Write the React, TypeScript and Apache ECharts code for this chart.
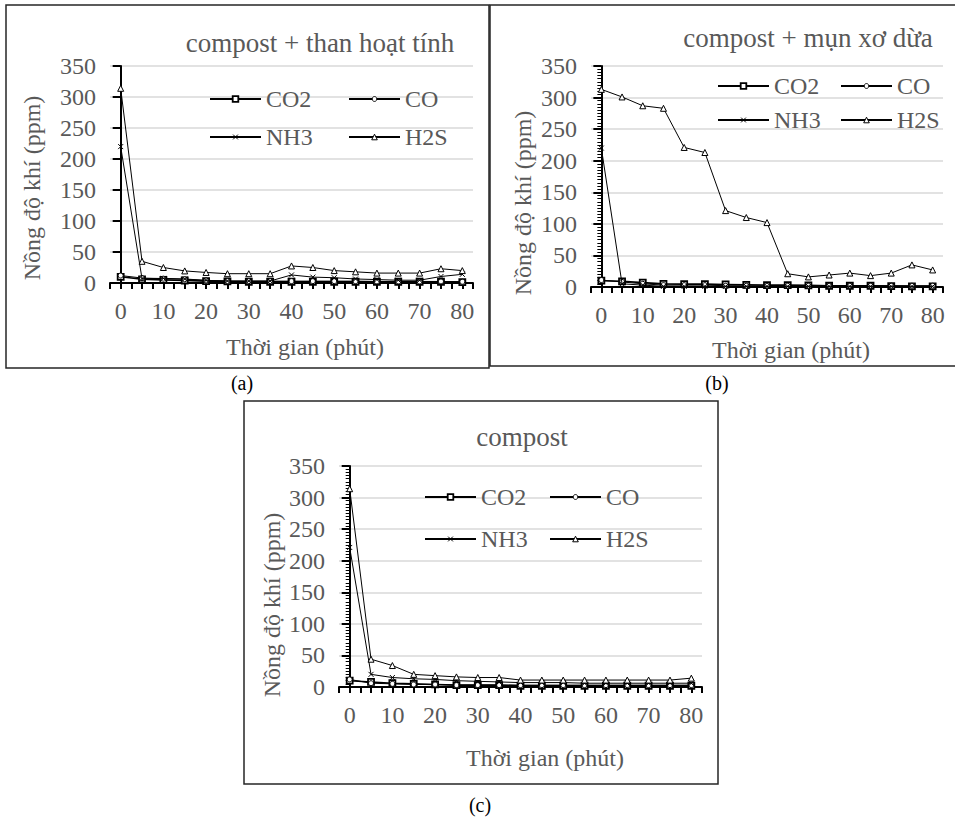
import React, { useEffect, useRef } from "react";
import * as echarts from "echarts";

// ---------- data ----------
const TIME = [0, 5, 10, 15, 20, 25, 30, 35, 40, 45, 50, 55, 60, 65, 70, 75, 80];
const SERIES_NAMES = ["CO2", "CO", "NH3", "H2S"];
const Y_TICKS = [0, 50, 100, 150, 200, 250, 300, 350];
const X_TICK_LABELS = [0, 10, 20, 30, 40, 50, 60, 70, 80];

// (a) compost + than hoạt tính
const co2A = [10, 6, 5, 4, 3, 2.5, 2, 2, 2, 2, 2, 2, 2, 2, 2, 2, 1.5];
const coA = [12, 8, 7, 6, 4, 3, 3, 3, 3, 3, 3, 3, 2.5, 2.5, 2.5, 2.5, 2];
const nh3A = [220, 7, 7.5, 6.5, 4.3, 3.2, 3.2, 3.2, 13, 9.5, 8.5, 6.5, 5.5, 4.5, 4.5, 10.5, 14];
const h2sA = [314, 35, 25, 19.5, 17, 15, 15, 15, 27.5, 25, 20, 18, 16, 16, 16, 23, 20];

// (b) compost + mụn xơ dừa
const co2B = [10, 9, 7, 5, 4.5, 4.5, 4, 3.5, 3, 3, 2.5, 2, 2, 2, 1.5, 1, 1];
const coB = [11, 8, 5, 3, 3, 3, 2, 2, 2, 2, 2, 2, 2, 2, 2, 2, 2];
const nh3B = [220, 5, 3, 1, 1, 1, 1, 1, 1, 1, 1, 1, 1, 1, 1, 1, 1];
const h2sB = [313, 301, 287, 283, 221, 213, 121, 110, 102, 21, 16, 19, 22, 18, 22, 35, 27];

// (c) compost
const co2C = [10, 8, 6, 5, 4, 3, 3, 3, 2, 2, 2, 2, 2, 2, 2, 2, 2];
const coC = [12, 6, 5, 4, 4, 3, 3, 3, 3, 3, 3, 3, 3, 3, 3, 3, 3];
const nh3C = [221, 20, 15, 13, 12, 10, 9, 8, 7, 7, 7, 6, 6, 6, 6, 6, 6];
const h2sC = [314, 44, 34, 20, 18, 16, 15, 15, 11, 11, 11, 11, 11, 11, 11, 11, 14];

const TITLES = ["compost + than hoạt tính", "compost + mụn xơ dừa", "compost"];
const CAPTIONS = ["(a)", "(b)", "(c)"];
const X_NAME = "Thời gian (phút)";
const Y_NAME = "Nồng độ khí (ppm)";

const PANEL_VALUES = [
  [co2A, coA, nh3A, h2sA],
  [co2B, coB, nh3B, h2sB],
  [co2C, coC, nh3C, h2sC],
];

// ---------- layout ----------
const FONT = "Liberation Serif";
const GREY = "#595959";

const PANELS = [
  {
    grid: { left: 110, top: 66, width: 363, height: 217 },
    box: { x: 6, y: 5, w: 483, h: 363 },
    title: { x: 320, y: 43 },
    xName: { x: 305, y: 347 },
    yName: { x: 32, y: 188 },
    caption: { x: 242, y: 383 },
    legend: { x1: 209, x2: 348, y1: 99, y2: 137 },
    minor: false,
  },
  {
    grid: { left: 591, top: 66, width: 352, height: 221 },
    box: { x: 490, y: 5, w: 480, h: 361 },
    title: { x: 808, y: 38 },
    xName: { x: 791, y: 350 },
    yName: { x: 523, y: 203 },
    caption: { x: 717, y: 383 },
    legend: { x1: 717, x2: 840, y1: 86, y2: 120 },
    minor: true,
  },
  {
    grid: { left: 339, top: 466, width: 363, height: 221 },
    box: { x: 244, y: 401, w: 474, h: 383 },
    title: { x: 522, y: 437 },
    xName: { x: 545, y: 758 },
    yName: { x: 272, y: 605 },
    caption: { x: 480, y: 805 },
    legend: { x1: 424, x2: 549, y1: 497, y2: 539 },
    minor: true,
  },
];

const CROSS = "path://M0,0L10,10M10,0L0,10";
const SYMBOLS = ["rect", "circle", CROSS, "triangle"];
const SYMBOL_SIZES = [6, 5, 5, 6];
const LINE_WIDTHS = [1.6, 1, 1, 1];
const LEGEND_ITEM_H = [7, 6, 6, 7];

export default function App() {
  const ref = useRef<HTMLDivElement>(null);

  useEffect(() => {
    document.body.style.margin = "0";
    if (!ref.current) return;
    const chart = echarts.init(ref.current, undefined, { renderer: "svg" });

    const grids: any[] = [];
    const xAxes: any[] = [];
    const yAxes: any[] = [];
    const series: any[] = [];
    const legends: any[] = [];
    const graphics: any[] = [];

    PANELS.forEach((p, gi) => {
      grids.push({ ...p.grid, containLabel: false });
      xAxes.push({
        type: "value",
        gridIndex: gi,
        min: -2.5,
        max: 82.5,
        interval: 2.5,
        axisLine: { show: true, onZero: false, lineStyle: { color: "#000", width: 2 } },
        axisTick: { show: true, length: 6, inside: false, lineStyle: { color: "#000", width: 2 } },
        splitLine: { show: false },
        axisLabel: {
          show: true,
          margin: 16,
          fontFamily: FONT,
          fontSize: 24,
          color: GREY,
          showMinLabel: true,
          showMaxLabel: true,
          formatter: (v: number) => {
            const r = Math.round(v * 10) / 10;
            return X_TICK_LABELS.includes(r) ? String(r) : "";
          },
        },
      });
      yAxes.push({
        type: "value",
        gridIndex: gi,
        min: Y_TICKS[0],
        max: Y_TICKS[Y_TICKS.length - 1],
        interval: 50,
        axisLine: { show: true, lineStyle: { color: "#000", width: 2 } },
        axisTick: { show: true, length: 8, inside: false, lineStyle: { color: "#000", width: 2 } },
        minorTick: p.minor
          ? { show: true, splitNumber: 10, length: 4, lineStyle: { color: "#000", width: 1 } }
          : { show: false },
        splitLine: { show: true, lineStyle: { color: "#d9d9d9", width: 1.5 } },
        axisLabel: {
          margin: 14,
          fontFamily: FONT,
          fontSize: 24,
          color: GREY,
        },
      });

      PANEL_VALUES[gi].forEach((vals, si) => {
        series.push({
          name: SERIES_NAMES[si],
          type: "line",
          xAxisIndex: gi,
          yAxisIndex: gi,
          data: TIME.map((t, i) => [t, vals[i]]),
          symbol: SYMBOLS[si],
          symbolSize: SYMBOL_SIZES[si],
          showAllSymbol: true,
          lineStyle: { color: "#000", width: LINE_WIDTHS[si] },
          itemStyle: {
            color: "#fff",
            borderColor: "#000",
            borderWidth: si === 0 ? 1.8 : 1,
          },
          emphasis: { disabled: true },
          z: 3 + si,
        });
      });

      const L = p.legend;
      const pos = [
        [L.x1, L.y1],
        [L.x2, L.y1],
        [L.x1, L.y2],
        [L.x2, L.y2],
      ];
      SERIES_NAMES.forEach((n, si) => {
        legends.push({
          data: [n],
          left: pos[si][0],
          top: pos[si][1] - 12,
          padding: 0,
          itemWidth: 51,
          itemHeight: LEGEND_ITEM_H[si],
          itemGap: 0,
          selectedMode: false,
          itemStyle: { color: "#fff", borderColor: "#000", borderWidth: si === 0 ? 1.8 : 1 },
          textStyle: {
            fontFamily: FONT,
            fontSize: 24,
            lineHeight: 24,
            color: GREY,
          },
        });
      });

      graphics.push({
        type: "rect",
        shape: { x: p.box.x, y: p.box.y, width: p.box.w, height: p.box.h },
        style: { fill: "none", stroke: "#262626", lineWidth: 1.5 },
        z: 0,
      });
      graphics.push({
        type: "text",
        x: p.title.x,
        y: p.title.y,
        style: {
          text: TITLES[gi],
          fontFamily: FONT,
          fontSize: 27,
          fill: GREY,
          textAlign: "center",
          textVerticalAlign: "middle",
        },
      });
      graphics.push({
        type: "text",
        x: p.xName.x,
        y: p.xName.y,
        style: {
          text: X_NAME,
          fontFamily: FONT,
          fontSize: 24,
          fill: GREY,
          textAlign: "center",
          textVerticalAlign: "middle",
        },
      });
      graphics.push({
        type: "text",
        x: p.yName.x,
        y: p.yName.y,
        rotation: Math.PI / 2,
        style: {
          text: Y_NAME,
          fontFamily: FONT,
          fontSize: 24,
          fill: GREY,
          textAlign: "center",
          textVerticalAlign: "middle",
        },
      });
      graphics.push({
        type: "text",
        x: p.caption.x,
        y: p.caption.y,
        style: {
          text: CAPTIONS[gi],
          fontFamily: FONT,
          fontSize: 20,
          fill: "#000",
          textAlign: "center",
          textVerticalAlign: "middle",
        },
      });
    });

    chart.setOption({
      animation: false,
      backgroundColor: "#fff",
      grid: grids,
      xAxis: xAxes,
      yAxis: yAxes,
      series,
      legend: legends,
      graphic: graphics,
    });

    return () => chart.dispose();
  }, []);

  return <div ref={ref} style={{ width: 955, height: 819 }} />;
}
